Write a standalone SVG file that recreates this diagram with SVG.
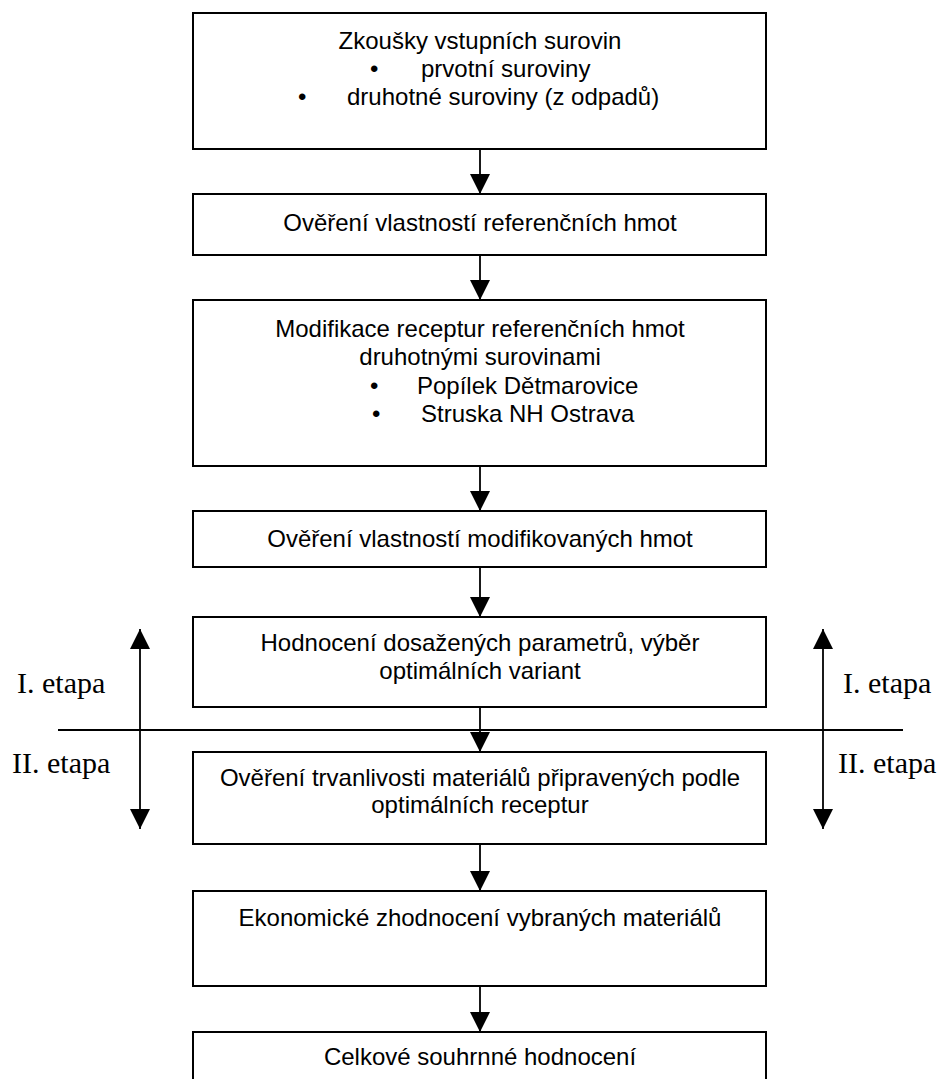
<svg xmlns="http://www.w3.org/2000/svg" width="944" height="1079" viewBox="0 0 944 1079">
<style>
.box{fill:#fff;stroke:#000;stroke-width:2}
.t{font-family:"Liberation Sans",Arial,sans-serif;font-size:24px;fill:#000}
.c{text-anchor:middle}
.e{font-family:"Liberation Serif","Times New Roman",serif;font-size:30px;fill:#000}
.ln{stroke:#000;stroke-width:1.8;fill:none}
</style>
<defs>
<marker id="ah" viewBox="0 0 20 21" refX="20" refY="10" markerWidth="20" markerHeight="21" markerUnits="userSpaceOnUse" orient="auto">
<path d="M0,0 L20,10 L0,20 Z" fill="#000"/>
</marker>
</defs>
<rect width="944" height="1079" fill="#fff"/>
<g id="connectors">
<line class="ln" x1="480" y1="149" x2="480" y2="194" marker-end="url(#ah)"/>
<line class="ln" x1="480" y1="255" x2="480" y2="300" marker-end="url(#ah)"/>
<line class="ln" x1="480" y1="466" x2="480" y2="511" marker-end="url(#ah)"/>
<line class="ln" x1="480" y1="567" x2="480" y2="617" marker-end="url(#ah)"/>
<line class="ln" x1="480" y1="707" x2="480" y2="752" marker-end="url(#ah)"/>
<line class="ln" x1="480" y1="844" x2="480" y2="891" marker-end="url(#ah)"/>
<line class="ln" x1="480" y1="986" x2="480" y2="1032" marker-end="url(#ah)"/>
<line class="ln" x1="58" y1="730" x2="903" y2="730"/>
<line class="ln" x1="140" y1="730" x2="140" y2="629" marker-end="url(#ah)"/>
<line class="ln" x1="140" y1="730" x2="140" y2="829" marker-end="url(#ah)"/>
<line class="ln" x1="823" y1="730" x2="823" y2="629" marker-end="url(#ah)"/>
<line class="ln" x1="823" y1="730" x2="823" y2="829" marker-end="url(#ah)"/>
</g>
<g id="n1">
<rect class="box" x="193" y="13" width="573" height="136"/>
<text class="t c" x="480" y="49">Zkoušky vstupních surovin</text>
<text class="t" x="370" y="77">•</text><text class="t" x="421" y="77">prvotní suroviny</text>
<text class="t" x="298" y="105">•</text><text class="t" x="347" y="105">druhotné suroviny (z odpadů)</text>
</g>
<g id="n2">
<rect class="box" x="193" y="194" width="573" height="61"/>
<text class="t c" x="480" y="231">Ověření vlastností referenčních hmot</text>
</g>
<g id="n3">
<rect class="box" x="193" y="300" width="573" height="166"/>
<text class="t c" x="480" y="337">Modifikace receptur referenčních hmot</text>
<text class="t c" x="480" y="365">druhotnými surovinami</text>
<text class="t" x="370" y="394">•</text><text class="t" x="417" y="394">Popílek Dětmarovice</text>
<text class="t" x="372" y="422">•</text><text class="t" x="421" y="422">Struska NH Ostrava</text>
</g>
<g id="n4">
<rect class="box" x="193" y="511" width="573" height="56"/>
<text class="t c" x="480" y="547">Ověření vlastností modifikovaných hmot</text>
</g>
<g id="n5">
<rect class="box" x="193" y="617" width="573" height="90"/>
<text class="t c" x="480" y="651">Hodnocení dosažených parametrů, výběr</text>
<text class="t c" x="480" y="679">optimálních variant</text>
</g>
<g id="n6">
<rect class="box" x="193" y="752" width="573" height="92"/>
<text class="t c" x="480" y="786">Ověření trvanlivosti materiálů připravených podle</text>
<text class="t c" x="480" y="813">optimálních receptur</text>
</g>
<g id="n7">
<rect class="box" x="193" y="891" width="573" height="95"/>
<text class="t c" x="480" y="926">Ekonomické zhodnocení vybraných materiálů</text>
</g>
<g id="n8">
<rect class="box" x="193" y="1032" width="573" height="60"/>
<text class="t c" x="480" y="1065">Celkové souhrnné hodnocení</text>
</g>
<g id="labels">
<text class="e" x="17" y="693">I. etapa</text>
<text class="e" x="12" y="773">II. etapa</text>
<text class="e" x="843" y="693">I. etapa</text>
<text class="e" x="838" y="773">II. etapa</text>
</g>
</svg>
